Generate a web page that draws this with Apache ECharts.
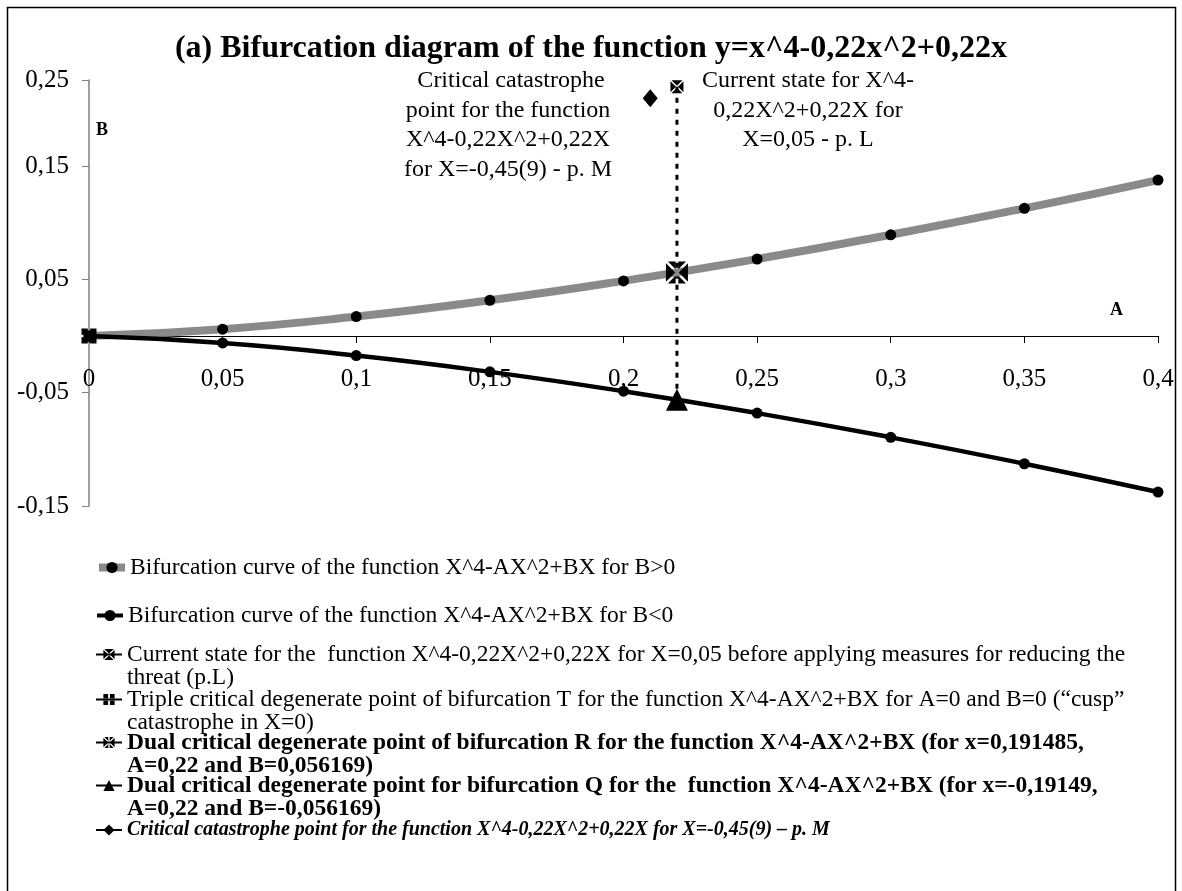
<!DOCTYPE html>
<html><head><meta charset="utf-8">
<script src="https://cdn.jsdelivr.net/npm/echarts@6/dist/echarts.min.js"></script>
<style>html,body{margin:0;padding:0;background:#fff}#c{width:1182px;height:891px}</style>
</head><body><div id="c"></div>
<script>
const titleText = '(a) Bifurcation diagram of the function y=x^4-0,22x^2+0,22x';
const aValues = [0, 0.05, 0.1, 0.15, 0.2, 0.25, 0.3, 0.35, 0.4];
const bUpper = [0, 0.0061, 0.0172, 0.0316, 0.0487, 0.0680, 0.0894, 0.1127, 0.1377];
const bLower = [0, -0.0061, -0.0172, -0.0316, -0.0487, -0.0680, -0.0894, -0.1127, -0.1377];
const pointL = [0.22, 0.22];
const pointT = [0, 0];
const pointR = [0.22, 0.056169];
const pointQ = [0.22, -0.056169];
const pointM = [0.21, 0.21];
const xTickLabels = ['0', '0,05', '0,1', '0,15', '0,2', '0,25', '0,3', '0,35', '0,4'];
const yTickValues = [-0.15, -0.05, 0.05, 0.15, 0.226];
const yTickLabels = ['-0,15', '-0,05', '0,05', '0,15', '0,25'];
const seriesNames = [
  'Bifurcation curve of the function X^4-AX^2+BX for B>0',
  'Bifurcation curve of the function X^4-AX^2+BX for B<0',
  'Current state for the  function X^4-0,22X^2+0,22X for X=0,05 before applying measures for reducing the threat (p.L)',
  'Triple critical degenerate point of bifurcation T for the function X^4-AX^2+BX for A=0 and B=0 (\u201ccusp\u201d catastrophe in X=0)',
  'Dual critical degenerate point of bifurcation R for the function X^4-AX^2+BX (for x=0,191485, A=0,22 and B=0,056169)',
  'Dual critical degenerate point for bifurcation Q for the  function X^4-AX^2+BX (for x=-0,19149, A=0,22 and B=-0,056169)',
  'Critical catastrophe point for the function X^4-0,22X^2+0,22X for X=-0,45(9) \u2013 p. M'
];
const legendLines = [
  ['Bifurcation curve of the function X^4-AX^2+BX for B>0'],
  ['Bifurcation curve of the function X^4-AX^2+BX for B<0'],
  ['Current state for the  function X^4-0,22X^2+0,22X for X=0,05 before applying measures for reducing the', 'threat (p.L)'],
  ['Triple critical degenerate point of bifurcation T for the function X^4-AX^2+BX for A=0 and B=0 (\u201ccusp\u201d', 'catastrophe in X=0)'],
  ['Dual critical degenerate point of bifurcation R for the function X^4-AX^2+BX (for x=0,191485,', 'A=0,22 and B=0,056169)'],
  ['Dual critical degenerate point for bifurcation Q for the  function X^4-AX^2+BX (for x=-0,19149,', 'A=0,22 and B=-0,056169)'],
  ['Critical catastrophe point for the function X^4-0,22X^2+0,22X for X=-0,45(9) \u2013 p. M']
];
const annotationM = [' Critical catastrophe', 'point for the function', 'X^4-0,22X^2+0,22X', 'for X=-0,45(9) - p. M'];
const annotationL = ['Current state for X^4-', '0,22X^2+0,22X for', 'X=0,05 - p. L'];

const FONT = '"Liberation Serif", "Times New Roman", serif';
const symX = 'path://M0.8,0L9.2,0L5,4.2Z M10,0.8L10,9.2L5.8,5Z M9.2,10L0.8,10L5,5.8Z M0,9.2L0,0.8L4.2,5Z';
const symPlus = 'path://M0,0L4.2,0L4.2,4.2L0,4.2Z M5.8,0L10,0L10,4.2L5.8,4.2Z M0,5.8L4.2,5.8L4.2,10L0,10Z M5.8,5.8L10,5.8L10,10L5.8,10Z';
const symStar = 'path://M0.9,0L4.4,0L4.4,3.6Z M5.6,0L9.1,0L5.6,3.6Z M10,0.8L10,9.2L5.8,5Z M9.1,10L5.6,10L5.6,6.4Z M4.4,10L0.9,10L4.4,6.4Z M0,9.2L0,0.8L4.2,5Z';

const zip = (xs, ys) => xs.map((x, i) => [x, ys[i]]);

const pointSeries = (i, pt, symbol, size) => ({
  name: seriesNames[i], type: 'line', data: [pt], symbol: symbol, symbolSize: size,
  itemStyle: { color: '#000' }, lineStyle: { color: '#000', width: 2 }, z: 5, animation: false
});

const series = [
  { name: seriesNames[0], type: 'line', data: zip(aValues, bUpper), smooth: true, symbol: 'circle', symbolSize: 11,
    lineStyle: { color: '#8a8a8a', width: 8 }, itemStyle: { color: '#000' }, z: 3, animation: false },
  { name: seriesNames[1], type: 'line', data: zip(aValues, bLower), smooth: true, symbol: 'circle', symbolSize: 11,
    lineStyle: { color: '#000', width: 4.5 }, itemStyle: { color: '#000' }, z: 3, animation: false },
  { name: 'dropLine', type: 'line', data: [pointL, pointQ], symbol: 'none',
    lineStyle: { color: '#000', width: 3, type: [5, 6] }, z: 2, animation: false, silent: true },
  pointSeries(2, pointL, symX, 13),
  pointSeries(3, pointT, symPlus, 15),
  pointSeries(4, pointR, symStar, 22),
  pointSeries(5, pointQ, 'triangle', 22),
  pointSeries(6, pointM, 'diamond', [15, 18])
];

const legendCenters = [567, 615, 654, 699, 742, 785, 830];
const legendLineWidths = [8, 4, 2, 2, 2, 2, 2];
const legendLineColors = ['#8a8a8a', '#000', '#000', '#000', '#000', '#000', '#000'];
const LH = 23;
const legends = legendLines.map((lines, i) => {
  const multi = lines.length > 1;
  return {
    data: [seriesNames[i]], left: 95, top: multi ? legendCenters[i] - (LH * 3) / 2 : legendCenters[i] - LH / 2,
    orient: 'vertical', padding: 0, itemGap: 0, itemWidth: 26, itemHeight: 14, selectedMode: false,
    lineStyle: { width: legendLineWidths[i], color: legendLineColors[i] },
    formatter: () => (multi ? ' \n' + lines.join('\n') : lines[0]),
    textStyle: {
      fontFamily: FONT, fontSize: i === 6 ? 20 : 23.5, lineHeight: LH, color: '#000',
      fontWeight: i >= 4 ? 'bold' : 'normal', fontStyle: i === 6 ? 'italic' : 'normal'
    }
  };
});

const annotationText = (lines, cx, top) => lines.map((t, k) => ({
  type: 'text', x: cx, y: top + k * 29.5, silent: true,
  style: { text: t, align: 'center', verticalAlign: 'middle', font: '24px ' + FONT, fill: '#000' }
}));

const chart = echarts.init(document.getElementById('c'));
chart.setOption({
  backgroundColor: '#fff',
  animation: false,
  title: { text: titleText, left: 'center', top: 33, padding: 0,
    textStyle: { fontFamily: FONT, fontSize: 32, fontWeight: 'bold', color: '#000' } },
  grid: { left: 89, right: 24, top: 80, bottom: 385, containLabel: false },
  xAxis: {
    type: 'value', min: 0, max: 0.4, interval: 0.05,
    axisLine: { onZero: true, lineStyle: { color: '#000', width: 1 } },
    axisTick: { show: true, length: 7, lineStyle: { color: '#000' } },
    splitLine: { show: false },
    axisLabel: { margin: -139, fontFamily: FONT, fontSize: 25, color: '#000',
      formatter: (v) => xTickLabels[Math.round(v / 0.05)] }
  },
  yAxis: {
    type: 'value', min: yTickValues[0], max: yTickValues[yTickValues.length - 1],
    axisLine: { show: true, onZero: false, lineStyle: { color: '#808080', width: 1.5 } },
    axisTick: { show: true, length: 7, customValues: yTickValues, lineStyle: { color: '#808080' } },
    splitLine: { show: false },
    axisLabel: { margin: 20, fontFamily: FONT, fontSize: 25, color: '#000', customValues: yTickValues,
      formatter: (v) => {
        let best = 0;
        yTickValues.forEach((t, i) => { if (Math.abs(t - v) < Math.abs(yTickValues[best] - v)) best = i; });
        return yTickLabels[best];
      } }
  },
  legend: legends,
  series: series,
  graphic: [
    { type: 'rect', shape: { x: 7.5, y: 7.5, width: 1168, height: 900 }, style: { fill: 'none', stroke: '#000', lineWidth: 1.5 }, z: -10, silent: true },
    { type: 'text', x: 96, y: 130, silent: true, style: { text: 'B', font: 'bold 18px ' + FONT, fill: '#000', verticalAlign: 'middle' } },
    { type: 'text', x: 1110, y: 310, silent: true, style: { text: 'A', font: 'bold 18px ' + FONT, fill: '#000', verticalAlign: 'middle' } },
    ...annotationText(annotationM, 508, 81),
    ...annotationText(annotationL, 808, 81)
  ]
});
</script>
</body></html>
